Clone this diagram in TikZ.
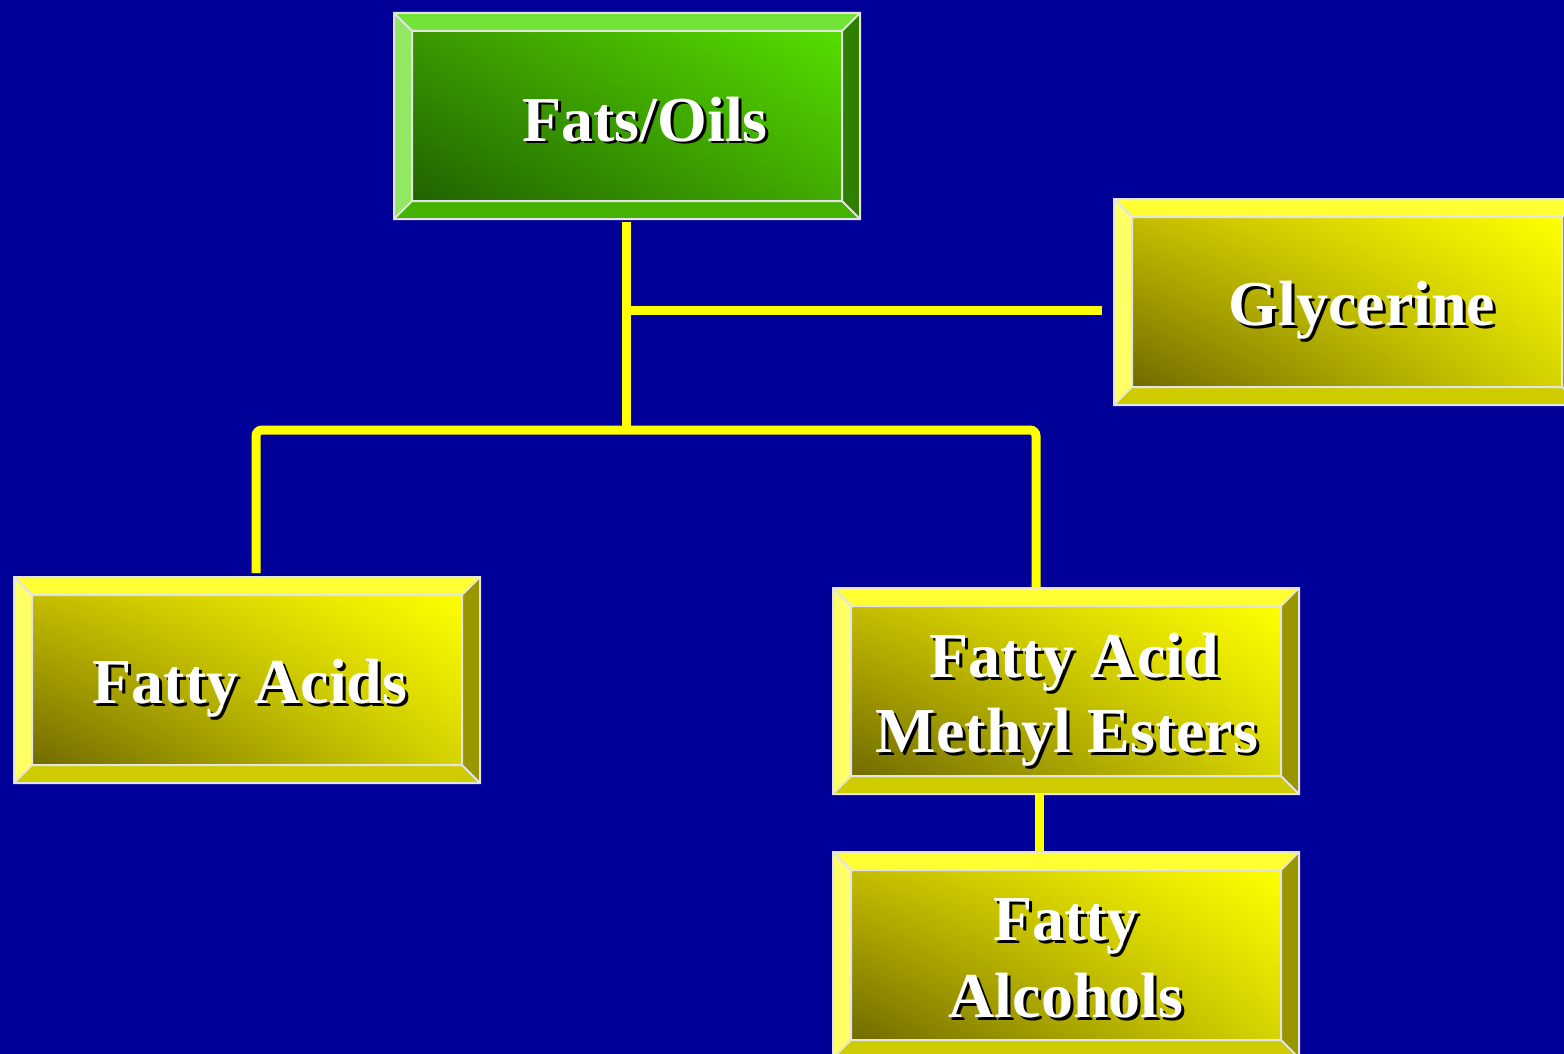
\documentclass[tikz,border=0pt]{standalone}
\usepackage{fontspec}
\usetikzlibrary{shadings}
\setmainfont{Liberation Serif}

\definecolor{slide}{RGB}{0,0,153}
\definecolor{rim}{RGB}{228,228,228}
\definecolor{link}{RGB}{255,255,0}
% yellow box palette
\definecolor{yl-top}{RGB}{255,255,51}
\definecolor{yl-left}{RGB}{255,255,102}
\definecolor{yl-bottom}{RGB}{206,204,0}
\definecolor{yl-right}{RGB}{153,150,0}
\definecolor{yl-ll}{RGB}{112,106,0}
\definecolor{yl-ur}{RGB}{255,255,0}
\definecolor{yl-ul}{RGB}{196,188,0}
\definecolor{yl-lr}{RGB}{214,212,0}
% green box palette
\definecolor{gr-top}{RGB}{114,228,56}
\definecolor{gr-left}{RGB}{146,232,98}
\definecolor{gr-bottom}{RGB}{68,178,0}
\definecolor{gr-right}{RGB}{48,128,0}
\definecolor{gr-ll}{RGB}{32,98,0}
\definecolor{gr-ur}{RGB}{86,222,0}
\definecolor{gr-ul}{RGB}{58,152,0}
\definecolor{gr-lr}{RGB}{66,172,0}

\tikzset{
  boxbody/.style={rectangle, minimum width=233pt, minimum height=103pt,
    inner sep=0pt, outer sep=0pt},
  rimline/.style={draw=rim, line width=1pt, line join=miter},
  conn/.style={draw=link, line width=4.5pt},
  lbl/.style={anchor=base, inner sep=0pt, text=white,
    font=\fontsize{32}{38}\selectfont\bfseries},
  lblshadow/.style={lbl, text=black},
}

% bevelled box: name, centre x, centre y, palette
\newcommand{\bevelbox}[4]{%
  \node[boxbody] (#1) at (#2,#3) {};
  \path (#1.north west) ++(18,18) coordinate (#1-inw)
        (#1.north east) ++(-18,18) coordinate (#1-ine)
        (#1.south east) ++(-18,-18) coordinate (#1-ise)
        (#1.south west) ++(18,-18) coordinate (#1-isw);
  \fill[#4-top] (#1.north west) -- (#1.north east) -- (#1-ine) -- (#1-inw) -- cycle;
  \fill[#4-left] (#1.north west) -- (#1-inw) -- (#1-isw) -- (#1.south west) -- cycle;
  \fill[#4-bottom] (#1.south west) -- (#1-isw) -- (#1-ise) -- (#1.south east) -- cycle;
  \fill[#4-right] (#1.north east) -- (#1.south east) -- (#1-ise) -- (#1-ine) -- cycle;
  \shade[upper left=#4-ul, upper right=#4-ur, lower left=#4-ll, lower right=#4-lr]
    (#1-inw) rectangle (#1-ise);
  \draw[rimline] (#1.north west) rectangle (#1.south east)
    (#1-inw) rectangle (#1-ise)
    (#1.north west) -- (#1-inw) (#1.north east) -- (#1-ine)
    (#1.south east) -- (#1-ise) (#1.south west) -- (#1-isw);
}

% white label with a black drop shadow: name, x, baseline y, text
\newcommand{\boxlabel}[4]{%
  \node[lblshadow] at (#2+3,#3+3) {#4};
  \node[lbl] (#1) at (#2,#3) {#4};
}

\begin{document}
\begin{tikzpicture}[x=0.5pt, y=-0.5pt]
  \useasboundingbox (0,0) rectangle (1564,1054);
  \fill[slide] (0,0) rectangle (1564,1054);
  \clip (0,0) rectangle (1564,1054);

  % boxes
  \bevelbox{fo}{627}{116}{gr}
  \bevelbox{gl}{1347}{302}{yl}
  \bevelbox{fa}{247}{680}{yl}
  \bevelbox{fm}{1066}{691}{yl}
  \bevelbox{fl}{1066}{955}{yl}

  % connector junctions
  \coordinate (jg) at (626,310);
  \coordinate (jh) at (626,430);
  \coordinate (fa-in) at (256,573);
  \coordinate (fm-in) at (1036,588);

  % connectors
  \draw[conn, shorten <=1.5pt] (fo.south -| jh) -- (jh);
  \draw[conn, shorten >=6pt] (jg) -- (jg -| gl.west);
  \draw[conn, rounded corners=3pt] (fa-in) |- (jh) -| (fm-in);
  \draw[conn] ([xshift=-13.5pt]fm.south) -- ([xshift=-13.5pt]fl.north);

  % labels
  \boxlabel{t-fo}{645}{141}{Fats/Oils}
  \boxlabel{t-gl}{1362}{325}{Glycerine}
  \boxlabel{t-fa}{250}{703}{Fatty Acids}
  \boxlabel{t-fm1}{1074}{677}{Fatty Acid}
  \boxlabel{t-fm2}{1067}{752}{Methyl Esters}
  \boxlabel{t-fl1}{1066}{940}{Fatty}
  \boxlabel{t-fl2}{1066}{1017}{Alcohols}
\end{tikzpicture}
\end{document}
